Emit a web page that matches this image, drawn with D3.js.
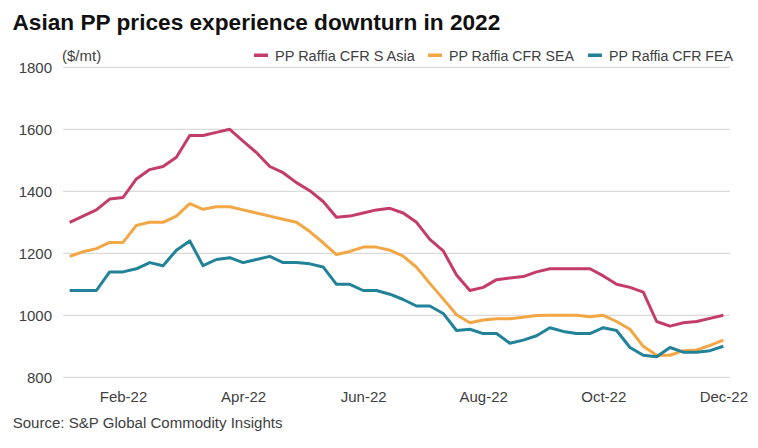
<!DOCTYPE html>
<html><head><meta charset="utf-8">
<script src="https://cdn.jsdelivr.net/npm/d3@7"></script>
<style>
html,body{margin:0;padding:0;background:#fff;}
svg{display:block;font-family:"Liberation Sans",Arial,sans-serif;}
</style></head>
<body>
<svg id="chart" width="758" height="448"></svg>
<script>
const dates = ["2022-01-07","2022-01-14","2022-01-21","2022-01-28","2022-02-04","2022-02-11","2022-02-18","2022-02-25",
"2022-03-04","2022-03-11","2022-03-18","2022-03-25","2022-04-01","2022-04-08","2022-04-15","2022-04-22","2022-04-29",
"2022-05-06","2022-05-13","2022-05-20","2022-05-27","2022-06-03","2022-06-10","2022-06-17","2022-06-24",
"2022-07-01","2022-07-08","2022-07-15","2022-07-22","2022-07-29","2022-08-05","2022-08-12","2022-08-19","2022-08-26",
"2022-09-02","2022-09-09","2022-09-16","2022-09-23","2022-09-30","2022-10-07","2022-10-14","2022-10-21","2022-10-28",
"2022-11-04","2022-11-11","2022-11-18","2022-11-25","2022-12-02","2022-12-09","2022-12-16"];

const sAsia = [1300,1320,1340,1375,1380,1440,1470,1480,1510,1580,1580,1590,1600,1562,1525,1480,1460,1428,1402,1367,
1316,1320,1330,1340,1345,1330,1300,1245,1208,1130,1080,1090,1115,1120,1125,1140,1150,1150,1150,1150,
1127,1100,1090,1075,980,965,976,980,990,1000];
const sea = [1190,1205,1215,1235,1235,1290,1300,1300,1320,1360,1342,1350,1350,1340,1330,1320,1310,1300,1270,1234,
1196,1206,1220,1220,1210,1191,1155,1103,1053,1002,976,985,989,989,994,999,1000,1000,1000,995,
1000,980,955,900,871,871,886,888,903,920];
const fea = [1080,1080,1080,1140,1140,1150,1170,1160,1210,1240,1160,1180,1186,1170,1180,1190,1170,1170,1166,1156,
1100,1100,1080,1080,1068,1051,1030,1030,1006,951,955,941,941,910,920,934,960,948,941,941,
960,951,896,871,866,896,881,881,886,900];

const seriesNames = ["PP Raffia CFR S Asia","PP Raffia CFR SEA","PP Raffia CFR FEA"];
const seriesColors = ["#C43C69","#F2A744","#21829A"];
const yTicks = [800,1000,1200,1400,1600,1800];
const xTickLabels = ["Feb-22","Apr-22","Jun-22","Aug-22","Oct-22","Dec-22"];
const xTickDates = ["2022-02-04","2022-04-08","2022-06-10","2022-08-12","2022-10-14","2022-12-16"];

const titleText = "Asian PP prices experience downturn in 2022";
const unitText = "($/mt)";
const sourceText = "Source: S&P Global Commodity Insights";

const svg = d3.select("#chart");
const plotLeft = 63, plotRight = 730, plotTop = 67.3, plotBottom = 377.3;

const x = d3.scalePoint().domain(dates).range([plotLeft, plotRight]).padding(0.5);
const y = d3.scaleLinear().domain([800, 1800]).range([plotBottom, plotTop]);

function fit(sel, target) {
  const node = sel.node();
  const fs = parseFloat(sel.attr("font-size"));
  const w = node.getComputedTextLength();
  if (w > 0) sel.attr("font-size", (fs * target / w).toFixed(2));
  return sel;
}

const textColor = "#404040";

// gridlines
svg.append("g").selectAll("line").data(yTicks).join("line")
  .attr("x1", plotLeft).attr("x2", plotRight)
  .attr("y1", d => y(d)).attr("y2", d => y(d))
  .attr("stroke", "#dadada").attr("stroke-width", 1.2);

// y axis labels
const yAxis = d3.axisLeft(y).tickValues(yTicks).tickSize(0).tickPadding(0).tickFormat(d3.format("d"));
const yg = svg.append("g").attr("transform", "translate(52,0)").call(yAxis);
yg.select(".domain").remove();
yg.selectAll("text").attr("font-size", 15).attr("fill", textColor)
  .attr("font-family", "'Liberation Sans', Arial, sans-serif").attr("dy", "0.36em");

// x axis labels
const xAxis = d3.axisBottom(x).tickValues(xTickDates).tickSize(0).tickPadding(0)
  .tickFormat((d, i) => xTickLabels[i]);
const xg = svg.append("g").attr("transform", "translate(0,391)").call(xAxis);
xg.select(".domain").remove();
xg.selectAll("text").attr("font-size", 15).attr("fill", textColor)
  .attr("font-family", "'Liberation Sans', Arial, sans-serif").attr("dy", "0.75em");

// lines
const allSeries = [sAsia, sea, fea];
const line = d3.line().x((d, i) => x(dates[i])).y(d => y(d));
svg.append("g").selectAll("path").data(allSeries).join("path")
  .attr("d", d => line(d))
  .attr("fill", "none")
  .attr("stroke", (d, i) => seriesColors[i])
  .attr("stroke-width", 3)
  .attr("stroke-linejoin", "round");

// title
fit(svg.append("text").attr("x", 12.5).attr("y", 30).attr("font-size", 22)
  .attr("font-weight", "bold").attr("fill", "#111").text(titleText), 488);

// unit
svg.append("text").attr("x", 62).attr("y", 61).attr("font-size", 15).attr("fill", textColor).text(unitText);

// legend
const legendPos = [{sx:254, tx:275, tw:140},{sx:428, tx:449, tw:125},{sx:588, tx:609, tw:124}];
seriesNames.forEach((n, i) => {
  const p = legendPos[i];
  svg.append("rect").attr("x", p.sx).attr("y", 53.5).attr("width", 14).attr("height", 3.5).attr("fill", seriesColors[i]);
  fit(svg.append("text").attr("x", p.tx).attr("y", 61).attr("font-size", 15).attr("fill", textColor).text(n), p.tw);
});

// source
fit(svg.append("text").attr("x", 12.7).attr("y", 427.5).attr("font-size", 15).attr("fill", textColor).text(sourceText), 270);
</script>
</body></html>
